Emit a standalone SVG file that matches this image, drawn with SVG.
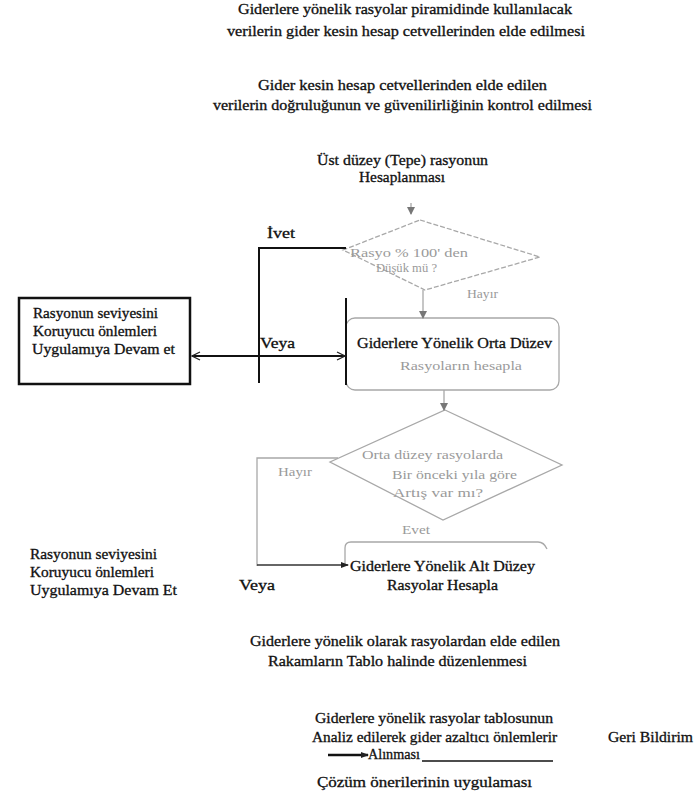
<svg xmlns="http://www.w3.org/2000/svg" width="696" height="802" viewBox="0 0 696 802" font-family="'Liberation Serif', 'Times New Roman', 'DejaVu Serif', serif">
<style>
text{font-family:'Liberation Serif','Times New Roman','DejaVu Serif',serif;font-size:14px;fill:#111;stroke:#111;stroke-width:0.3}
.g{fill:#9a9a9a;stroke:none;font-size:13px}
.lk{stroke:#111;stroke-width:2;fill:none}
.lg{stroke:#a8a8a8;stroke-width:1.3;fill:none}
.dash{stroke:#a8a8a8;stroke-width:1.3;fill:none;stroke-dasharray:5 2}
</style>
<defs>
<marker id="open" markerWidth="10" markerHeight="10" refX="9" refY="5" orient="auto" markerUnits="userSpaceOnUse"><path d="M1,1 L9,5 L1,9" fill="none" stroke="#222" stroke-width="1.2"/></marker>
<marker id="fillg" markerWidth="8" markerHeight="8" refX="7" refY="4" orient="auto" markerUnits="userSpaceOnUse"><path d="M0,0 L8,4 L0,8 Z" fill="#777"/></marker>
<marker id="fillk" markerWidth="8" markerHeight="8" refX="7" refY="4" orient="auto" markerUnits="userSpaceOnUse"><path d="M0,1 L8,4 L0,7 Z" fill="#222"/></marker>
</defs>
<rect width="696" height="802" fill="#fff"/>

<g id="step1">
<text x="238" y="14" textLength="334" lengthAdjust="spacingAndGlyphs">Giderlere yönelik rasyolar piramidinde kullanılacak</text>
<text x="227" y="36" textLength="358" lengthAdjust="spacingAndGlyphs">verilerin gider  kesin hesap cetvellerinden elde edilmesi</text>
</g>
<g id="step2">
<text x="258" y="90" textLength="289" lengthAdjust="spacingAndGlyphs">Gider  kesin hesap cetvellerinden elde edilen</text>
<text x="213" y="110" textLength="379" lengthAdjust="spacingAndGlyphs">verilerin doğruluğunun ve güvenilirliğinin kontrol edilmesi</text>
</g>
<g id="step3">
<text x="317" y="165" textLength="171" lengthAdjust="spacingAndGlyphs">Üst düzey (Tepe) rasyonun</text>
<text x="359" y="182" textLength="86" lengthAdjust="spacingAndGlyphs">Hesaplanması</text>
</g>
<g id="decision1">
<polygon class="dash" points="420,220 540,257 425,290 343,250"/>
<text class="g" x="350" y="257" textLength="118" lengthAdjust="spacingAndGlyphs">Rasyo % 100' den</text>
<text class="g" x="376" y="272" textLength="61" lengthAdjust="spacingAndGlyphs">Düşük mü ?</text>
</g>
<g id="leftbox1">
<rect x="19" y="298" width="171" height="86" fill="none" stroke="#111" stroke-width="2.5"/>
<text x="33" y="318" textLength="125" lengthAdjust="spacingAndGlyphs">Rasyonun  seviyesini</text>
<text x="33" y="336" textLength="124" lengthAdjust="spacingAndGlyphs">Koruyucu önlemleri</text>
<text x="32" y="354" textLength="143" lengthAdjust="spacingAndGlyphs">Uygulamıya Devam et</text>
</g>
<g id="midbox">
<rect x="346" y="318" width="213" height="72" rx="9" class="lg" stroke="#bbb"/>
<text x="357" y="348" textLength="195" lengthAdjust="spacingAndGlyphs">Giderlere Yönelik Orta Düzev</text>
<text class="g" x="400" y="370" textLength="122" lengthAdjust="spacingAndGlyphs">Rasyoların hesapla</text>
</g>
<g id="decision2">
<polygon class="lg" points="445,410 562,465 443,520 330,462"/>
<text class="g" x="362" y="459" textLength="141" lengthAdjust="spacingAndGlyphs">Orta düzey rasyolarda</text>
<text class="g" x="392" y="479" textLength="125" lengthAdjust="spacingAndGlyphs">Bir önceki yıla göre</text>
<text class="g" x="393" y="497" textLength="90" lengthAdjust="spacingAndGlyphs">Artış var mı?</text>
</g>
<g id="lowbox">
<path class="lg" d="M345,566 V548 Q345,542 351,542 H538 Q544,542 547,549"/>
<text x="350" y="571" textLength="185" lengthAdjust="spacingAndGlyphs">Giderlere Yönelik Alt Düzey</text>
<text x="387" y="590" textLength="111" lengthAdjust="spacingAndGlyphs">Rasyolar Hesapla</text>
</g>
<g id="leftbox2">
<text x="30" y="559" textLength="127" lengthAdjust="spacingAndGlyphs">Rasyonun  seviyesini</text>
<text x="30" y="577" textLength="124" lengthAdjust="spacingAndGlyphs">Koruyucu önlemleri</text>
<text x="30" y="595" textLength="147" lengthAdjust="spacingAndGlyphs">Uygulamıya Devam Et</text>
</g>
<g id="step4">
<text x="250" y="646" textLength="310" lengthAdjust="spacingAndGlyphs">Giderlere yönelik olarak rasyolardan elde edilen</text>
<text x="268" y="666" textLength="259" lengthAdjust="spacingAndGlyphs">Rakamların Tablo halinde düzenlenmesi</text>
</g>
<g id="step5">
<text x="315" y="723" textLength="238" lengthAdjust="spacingAndGlyphs">Giderlere yönelik rasyolar tablosunun</text>
<text x="312" y="742" textLength="245" lengthAdjust="spacingAndGlyphs">Analiz edilerek gider azaltıcı önlemlerir</text>
<text x="368" y="759" textLength="52" lengthAdjust="spacingAndGlyphs">Alınması</text>
</g>
<g id="feedback">
<text x="608" y="742" textLength="85" lengthAdjust="spacingAndGlyphs">Geri Bildirim</text>
</g>
<g id="step6">
<text x="317" y="787" textLength="215" lengthAdjust="spacingAndGlyphs">Çözüm önerilerinin uygulaması</text>
</g>

<g id="connectors">
<line class="lg" x1="411" y1="203" x2="411" y2="214" marker-end="url(#fillg)"/>
<polyline class="lk" points="346,248 259,248 259,383"/>
<line class="lk" x1="346" y1="298" x2="346" y2="385"/>
<line x1="259" y1="356" x2="192" y2="356" stroke="#111" stroke-width="2" marker-end="url(#open)"/>
<line x1="259" y1="356" x2="345" y2="356" stroke="#111" stroke-width="2" marker-end="url(#open)"/>
<line class="lg" x1="423" y1="290" x2="423" y2="318" marker-end="url(#fillg)"/>
<line class="lg" x1="444" y1="390" x2="444" y2="410" marker-end="url(#fillg)"/>
<polyline class="lg" points="338,458 257,458 257,566"/>
<line x1="257" y1="565" x2="348" y2="565" stroke="#333" stroke-width="1.4" marker-end="url(#fillk)"/>
<line x1="328" y1="755" x2="368" y2="755" stroke="#111" stroke-width="2.5" marker-end="url(#fillk)"/>
<line x1="422" y1="761" x2="553" y2="761" stroke="#111" stroke-width="1.5"/>
<text x="267" y="238" textLength="28" lengthAdjust="spacingAndGlyphs">İvet</text>
<text x="260" y="348" textLength="35" lengthAdjust="spacingAndGlyphs">Veya</text>
<text class="g" x="467" y="298" textLength="31" lengthAdjust="spacingAndGlyphs">Hayır</text>
<text class="g" x="278" y="476" textLength="34" lengthAdjust="spacingAndGlyphs">Hayır</text>
<text class="g" x="402" y="534" textLength="28" lengthAdjust="spacingAndGlyphs">Evet</text>
<text x="239" y="590" textLength="36" lengthAdjust="spacingAndGlyphs">Veya</text>
</g>
</svg>
